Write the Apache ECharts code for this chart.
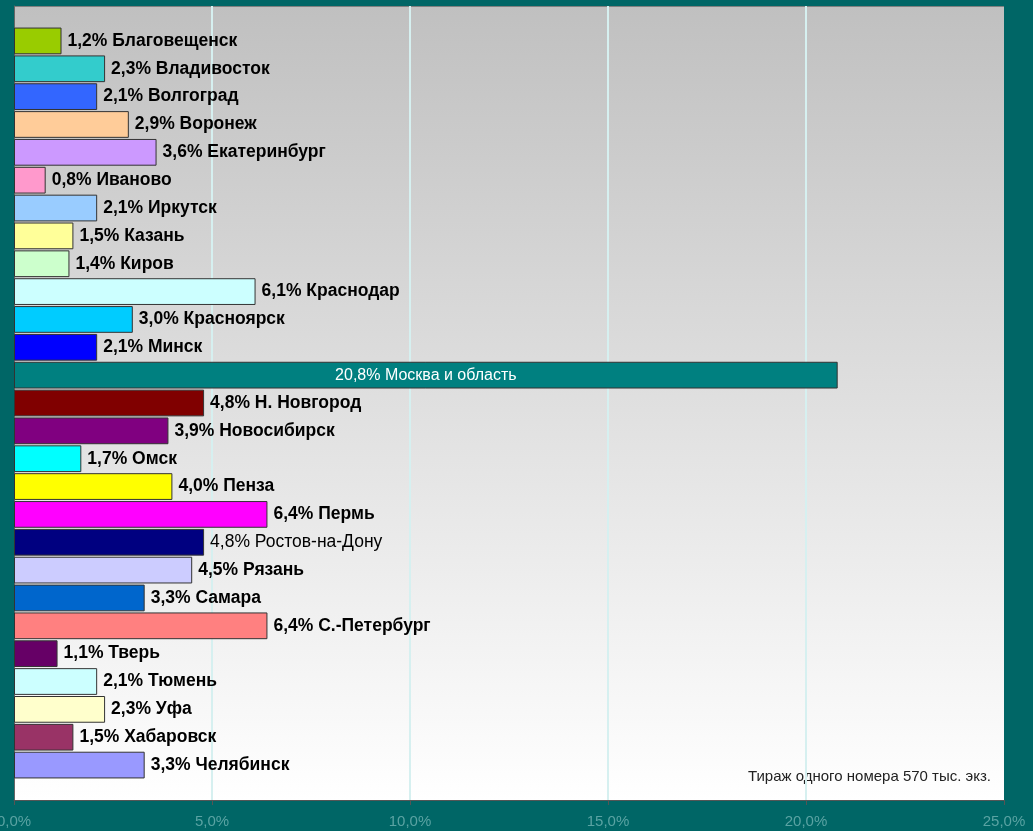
<!DOCTYPE html>
<html><head><meta charset="utf-8">
<script src="https://cdn.jsdelivr.net/npm/echarts@6/dist/echarts.min.js"></script>
<style>html,body{margin:0;padding:0;background:#006666;}#c{width:1033px;height:831px;}</style>
</head><body><div id="c"></div>
<script>
const cities = ['Благовещенск','Владивосток','Волгоград','Воронеж','Екатеринбург','Иваново','Иркутск','Казань','Киров','Краснодар','Красноярск','Минск','Москва и область','Н. Новгород','Новосибирск','Омск','Пенза','Пермь','Ростов-на-Дону','Рязань','Самара','С.-Петербург','Тверь','Тюмень','Уфа','Хабаровск','Челябинск'];
const shares = [1.2,2.3,2.1,2.9,3.6,0.8,2.1,1.5,1.4,6.1,3.0,2.1,20.8,4.8,3.9,1.7,4.0,6.4,4.8,4.5,3.3,6.4,1.1,2.1,2.3,1.5,3.3];
const colors = ['#99CC00','#33CCCC','#3366FF','#FFCC99','#CC99FF','#FF99CC','#99CCFF','#FFFF99','#CCFFCC','#CCFFFF','#00CCFF','#0000FF','#008080','#800000','#800080','#00FFFF','#FFFF00','#FF00FF','#000080','#CCCCFF','#0066CC','#FF8080','#660066','#CCFFFF','#FFFFCC','#993366','#9999FF'];
const xTicks = [0,5,10,15,20,25];
const note = 'Тираж одного номера 570 тыс. экз.';

const fmt = v => v.toFixed(1).replace('.', ',');
const chart = echarts.init(document.getElementById('c'));
const data = shares.map((v,i)=>{
  const d = {value:v, itemStyle:{color:colors[i]}};
  if (cities[i]==='Москва и область') {
    d.label = {position:'inside', color:'#fff', fontWeight:'normal', fontSize:16};
  } else if (cities[i]==='Ростов-на-Дону') {
    d.label = {fontWeight:'normal', fontSize:17.5};
  }
  return d;
});
chart.setOption({
  backgroundColor:'#006666',
  animation:false,
  grid:[
    {left:14, right:29, top:6, bottom:31, show:true, borderWidth:0, outerBoundsMode:'none', containLabel:false,
     backgroundColor:new echarts.graphic.LinearGradient(0,0,0,1,[{offset:0,color:'#C0C0C0'},{offset:1,color:'#FFFFFF'}])},
    {left:14, right:29, top:27, bottom:52, outerBoundsMode:'none', containLabel:false}
  ],
  xAxis:[
    {gridIndex:0, type:'value', min:xTicks[0], max:xTicks[xTicks.length-1], interval:5,
     axisLine:{show:true, lineStyle:{color:'#555', width:1}},
     axisTick:{show:true, length:5, lineStyle:{color:'#555'}},
     axisLabel:{color:'#5aa3a3', fontSize:15, fontFamily:'Liberation Sans, Arial', margin:14, formatter:v=>fmt(v)+'%'},
     splitLine:{show:true, showMinLine:false, showMaxLine:false, lineStyle:{color:'#D6F0F0', width:2}}},
    {gridIndex:1, type:'value', min:0, max:25, show:false, splitLine:{show:false}}
  ],
  yAxis:[
    {gridIndex:0, type:'value', min:0, max:1, axisLine:{show:true, lineStyle:{color:'#666'}}, axisTick:{show:false}, axisLabel:{show:false}, splitLine:{show:false}},
    {gridIndex:1, type:'category', data:cities, inverse:true, show:false}
  ],
  graphic:[
    {type:'line', shape:{x1:14,y1:6.5,x2:1004,y2:6.5}, style:{stroke:'#808080', lineWidth:1}},
    {type:'text', right:42, top:769, style:{text:note, font:'15px "Liberation Sans", Arial', fill:'#222'}}
  ],
  series:[{
    type:'bar', xAxisIndex:1, yAxisIndex:1, data:data, barWidth:'96%',
    itemStyle:{borderColor:'#333', borderWidth:1},
    label:{show:true, position:'right', distance:6, color:'#000', fontWeight:'bold', fontSize:17.5,
      fontFamily:'Liberation Sans, Arial',
      formatter:p=>fmt(p.value)+'% '+p.name}
  }]
});
</script></body></html>
